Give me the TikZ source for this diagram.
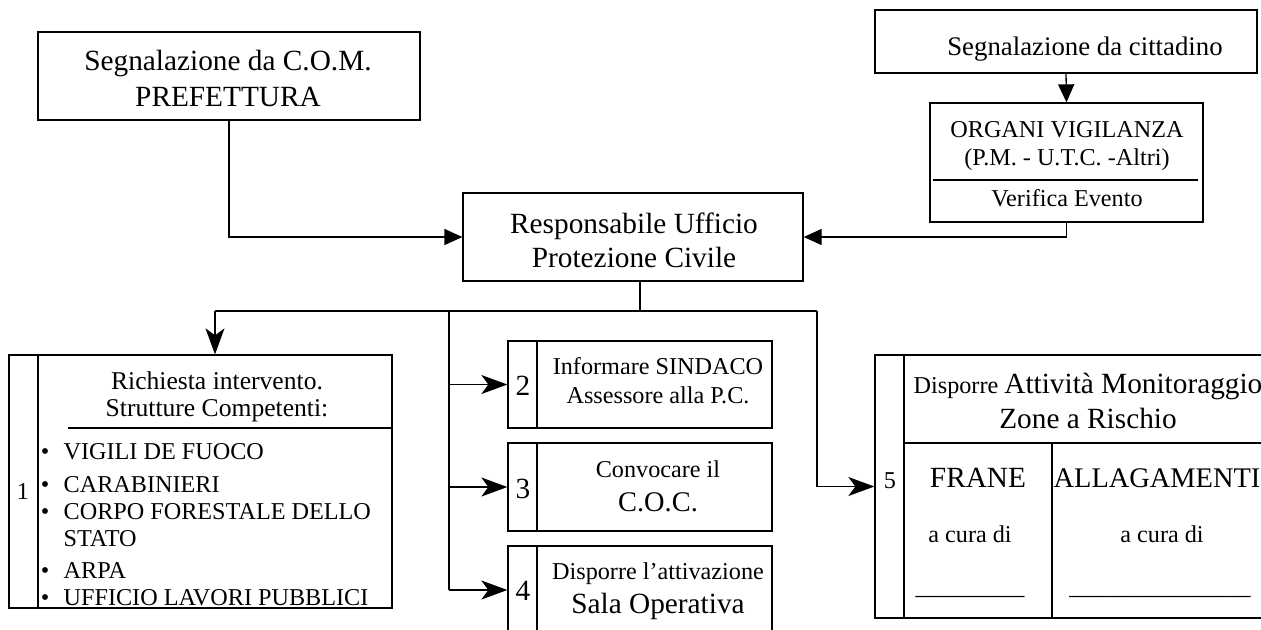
\documentclass[tikz,border=0pt]{standalone}
\usepackage{fontspec}
\setmainfont{Liberation Serif}
\usetikzlibrary{arrows.meta}
\newcommand\szBig{\fontsize{14.65}{17}\selectfont}
\newcommand\szSmall{\fontsize{12.1}{14}\selectfont}
\newcommand\szMid{\fontsize{13.4}{16}\selectfont}
\newcommand\szHead{\fontsize{12.8}{15}\selectfont}
\newcommand\szCoc{\fontsize{14.2}{17}\selectfont}
\begin{document}
\begin{tikzpicture}[x=0.5pt,y=-0.5pt,line width=0.65pt,
  box/.style={draw,rectangle,inner sep=0pt,line width=0.65pt},
  txt/.style={inner sep=0pt,anchor=base},
  txtl/.style={inner sep=0pt,anchor=base west},
  tri/.style={-{Triangle[length=9pt,width=8pt]}},
  stl/.style={-{Stealth[length=13pt,width=9.5pt,inset=3.5pt]}}]
\useasboundingbox (0,0) rectangle (1261,629);
\fill[white] (0,0) rectangle (1261,629);
\clip (0,0) rectangle (1261,629);

% top boxes
\node[box,minimum width=191pt,minimum height=44pt] (com) at (229,76) {};
\node[txt,font=\szBig] (com1) at (228,70) {Segnalazione da C.O.M.};
\node[txt,font=\szBig] (com2) at (228,106) {PREFETTURA};

\node[box,minimum width=191pt,minimum height=31.5pt] (cit) at (1066,41.5) {};
\node[txt,font=\szMid] (cit1) at (1085,55) {Segnalazione da cittadino};

\node[box,minimum width=136.5pt,minimum height=59.5pt] (org) at (1066.5,162.5) {};
\node[txt,font=\szSmall] (org1) at (1067,137) {ORGANI VIGILANZA};
\node[txt,font=\szSmall] (org2) at (1067,165) {(P.M. - U.T.C. -Altri)};
\draw (933,180) -- (1198,180);
\node[txt,font=\szSmall] (org3) at (1067,206) {Verifica Evento};

\node[box,minimum width=170pt,minimum height=44pt] (resp) at (633,237) {};
\node[txt,font=\szBig] (resp1) at (634,233) {Responsabile Ufficio};
\node[txt,font=\szBig] (resp2) at (634,267) {Protezione Civile};

% connectors top
\draw[tri] (cit.south) -- (org.north);
\draw[tri] (com.south) |- (resp.west);
\draw[tri] (org.south) |- (resp.east);

% branch
\coordinate (drop) at (640,311);
\coordinate (jL) at (215,311);
\coordinate (jT) at (449,311);
\coordinate (jR) at (817,311);
\coordinate (tEnd) at (449,590);

% box 1
\node[box,minimum width=191.5pt,minimum height=126.5pt] (b1) at (200.5,481.5) {};
\draw (38,355) -- (38,608);
\draw (68,428) -- (392,428);
\node[txt,font=\szSmall] (n1) at (23,499) {1};
\node[txt,font=\szHead] (h1) at (217,389) {Richiesta intervento.};
\node[txt,font=\szHead] (h2) at (217,416) {Strutture Competenti:};
\node[txt,font=\szSmall] (bu1) at (45,459) {•};
\node[txtl,font=\szSmall] (l1) at (63,459) {VIGILI DE FUOCO};
\node[txt,font=\szSmall] (bu2) at (45,492) {•};
\node[txtl,font=\szSmall] (l2) at (63,492) {CARABINIERI};
\node[txt,font=\szSmall] (bu3) at (45,519) {•};
\node[txtl,font=\szSmall] (l3) at (63,519) {CORPO FORESTALE DELLO};
\node[txtl,font=\szSmall] (l3b) at (63,546) {STATO};
\node[txt,font=\szSmall] (bu4) at (45,578) {•};
\node[txtl,font=\szSmall] (l4) at (63,578) {ARPA};
\node[txt,font=\szSmall] (bu5) at (45,605) {•};
\node[txtl,font=\szSmall] (l5) at (63,605) {UFFICIO LAVORI PUBBLICI};

% boxes 2-4
\node[box,minimum width=132pt,minimum height=43.5pt] (b2) at (640,384.5) {};
\draw (537,341) -- (537,428);
\node[txt,font=\szBig] (n2) at (523,395) {2};
\node[txt,font=\szSmall] (t2a) at (658,374) {Informare SINDACO};
\node[txt,font=\szSmall] (t2b) at (658,403) {Assessore alla P.C.};

\node[box,minimum width=132pt,minimum height=44pt] (b3) at (640,487) {};
\draw (537,443) -- (537,531);
\node[txt,font=\szBig] (n3) at (523,498) {3};
\node[txt,font=\szSmall] (t3a) at (658,477) {Convocare il};
\node[txt,font=\szCoc] (t3b) at (658,511) {C.O.C.};

\node[box,minimum width=132pt,minimum height=47pt] (b4) at (640,593) {};
\draw (537,546) -- (537,640);
\node[txt,font=\szBig] (n4) at (523,600) {4};
\node[txt,font=\szSmall] (t4a) at (658,579) {Disporre l’attivazione};
\node[txt,font=\szBig] (t4b) at (658,613) {Sala Operativa};

% box 5
\node[box,minimum width=198.5pt,minimum height=131.5pt] (b5) at (1073.5,486.5) {};
\draw (904,355) -- (904,618);
\draw (904,443) -- (1272,443);
\draw (1052,443) -- (1052,618);
\node[txt,font=\szSmall] (n5) at (890,488) {5};
\node[txt,font=\szSmall] (t5a) at (1088,393) {Disporre {\szBig Attività Monitoraggio}};
\node[txt,font=\szBig] (t5b) at (1088,428) {Zone a Rischio};
\node[txt,font=\szBig] (fr) at (978,487) {FRANE};
\node[txt,font=\szCoc] (al) at (1157,487) {ALLAGAMENTI};
\node[txt,font=\szSmall] (fr2) at (970,542) {a cura di};
\node[txt,font=\szSmall] (al2) at (1162,542) {a cura di};
\node[txt,font=\szSmall] (fr3) at (970,594) {\_\_\_\_\_\_\_\_\_};
\node[txt,font=\szSmall] (al3) at (1160,594) {\_\_\_\_\_\_\_\_\_\_\_\_\_\_\_};

% branch connectors
\draw (drop |- resp.south) -- (drop);
\draw (jL) -- (jR);
\draw[stl] (jL) -- (jL |- b1.north);
\draw (jT) -- (tEnd);
\draw[stl] (jT |- b2.west) -- (b2.west);
\draw[stl] (jT |- b3.west) -- (b3.west);
\draw[stl] (tEnd) -- (tEnd -| b4.west);
\draw[stl] (jR) |- (b5.west);
\end{tikzpicture}
\end{document}
